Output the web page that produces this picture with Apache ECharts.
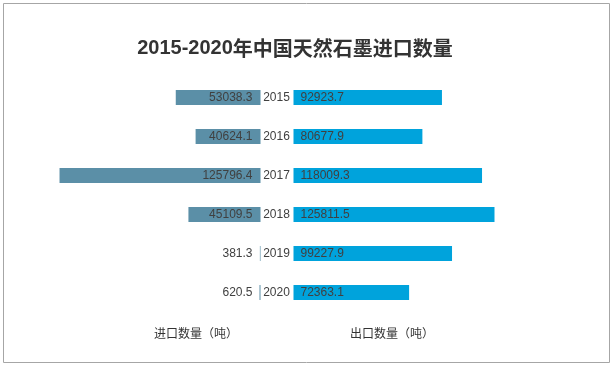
<!DOCTYPE html>
<html>
<head>
<meta charset="utf-8">
<script src="https://cdn.jsdelivr.net/npm/echarts@6/dist/echarts.min.js"></script>
<style>
html,body{margin:0;padding:0;background:#fff;}
#chart{width:613px;height:366px;}
</style>
</head>
<body>
<div id="chart"></div>
<script>
var years = ['2015', '2016', '2017', '2018', '2019', '2020'];
var importQty = [53038.3, 40624.1, 125796.4, 45109.5, 381.3, 620.5];
var exportQty = [92923.7, 80677.9, 118009.3, 125811.5, 99227.9, 72363.1];
var titleYears = '2015-2020';
var titleText = '年中国天然石墨进口数量';
var importName = '进口数量（吨）';
var exportName = '出口数量（吨）';

var chart = echarts.init(document.getElementById('chart'));
var numFont = "'Liberation Sans', 'DejaVu Sans', sans-serif";
var cjkFont = "'Noto Sans CJK SC', sans-serif";
var axisMax = 126000;

chart.setOption({
  backgroundColor: '#ffffff',
  animation: false,
  grid: [
    {left: 59.2, width: 201.3, top: 78, height: 234},
    {left: 293.5, width: 201.3, top: 78, height: 234}
  ],
  xAxis: [
    {gridIndex: 0, type: 'value', min: 0, max: axisMax, inverse: true, show: false},
    {gridIndex: 1, type: 'value', min: 0, max: axisMax, show: false}
  ],
  yAxis: [
    {gridIndex: 0, type: 'category', data: years, inverse: true, show: false},
    {gridIndex: 1, type: 'category', data: years, inverse: true,
      axisLine: {show: false}, axisTick: {show: false},
      axisLabel: {align: 'center', margin: 17, fontSize: 12, color: '#404040', fontFamily: numFont}}
  ],
  series: [
    {
      name: importName, type: 'bar', xAxisIndex: 0, yAxisIndex: 0,
      data: importQty, barWidth: 15,
      itemStyle: {color: '#5b8fa7'},
      label: {show: true, position: 'insideRight', distance: 8, fontSize: 12,
        color: '#404040', fontFamily: numFont, formatter: function(p){return p.value;}}
    },
    {
      name: exportName, type: 'bar', xAxisIndex: 1, yAxisIndex: 1,
      data: exportQty, barWidth: 15,
      itemStyle: {color: '#00a3dc'},
      label: {show: true, position: 'insideLeft', distance: 7, fontSize: 12,
        color: '#404040', fontFamily: numFont, formatter: function(p){return p.value;}}
    }
  ],
  graphic: [
    {type: 'rect', shape: {x: 3.5, y: 3.5, width: 606, height: 359}, silent: true,
      style: {fill: 'none', stroke: '#a6a6a6', lineWidth: 1}},
    {type: 'text', x: 295, y: 48, silent: true,
      style: {text: '{a|' + titleYears + '}{b|' + titleText + '}', align: 'center', verticalAlign: 'middle',
        rich: {
          a: {fontFamily: numFont, fontWeight: 'bold', fontSize: 20, fill: '#333333'},
          b: {fontFamily: cjkFont, fontWeight: 'bold', fontSize: 20, fill: '#333333'}
        }}},
    {type: 'text', x: 196, y: 333, silent: true,
      style: {text: importName, align: 'center', verticalAlign: 'middle', fontFamily: cjkFont, fontSize: 12, fill: '#333333'}},
    {type: 'text', x: 392, y: 333, silent: true,
      style: {text: exportName, align: 'center', verticalAlign: 'middle', fontFamily: cjkFont, fontSize: 12, fill: '#333333'}}
  ]
});
</script>
</body>
</html>
